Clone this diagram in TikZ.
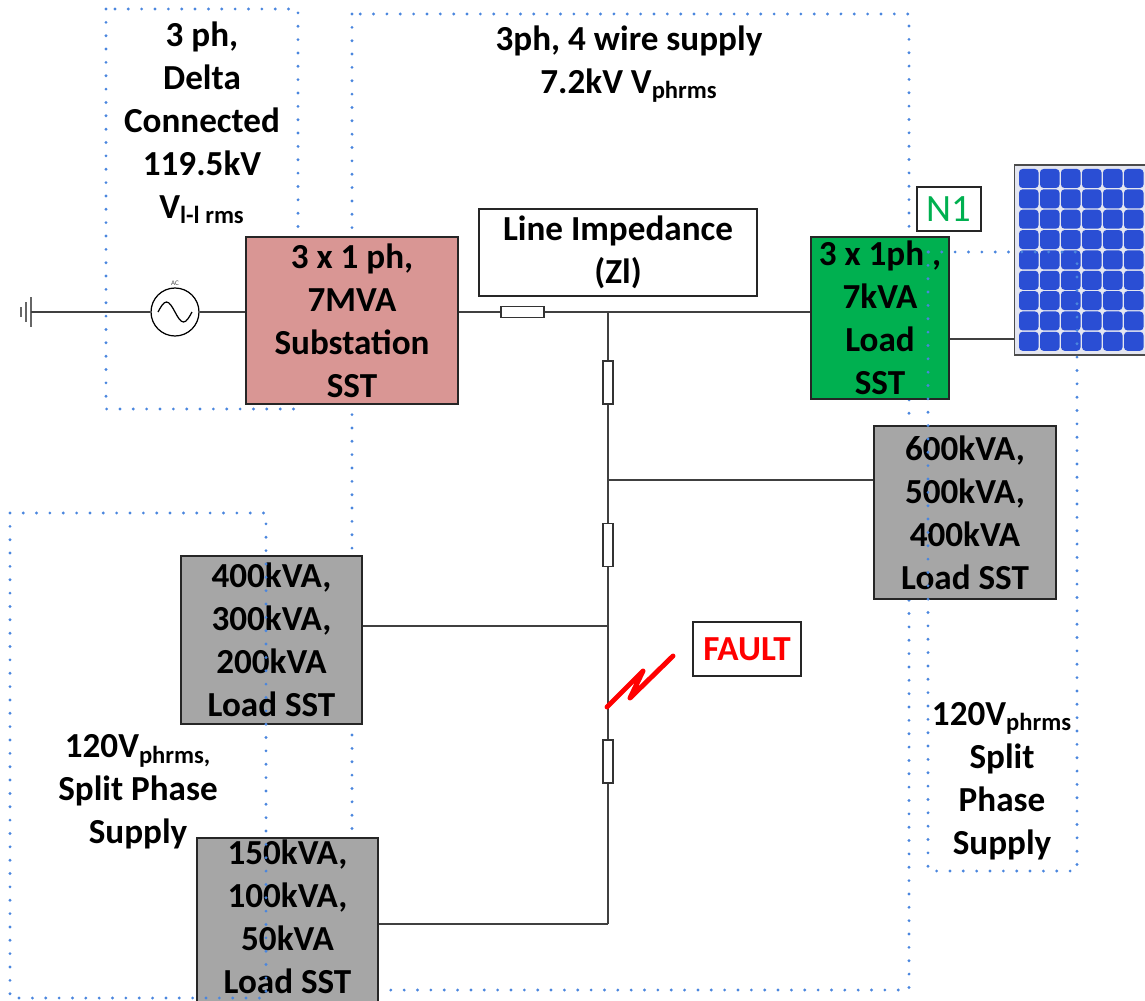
\documentclass[tikz,border=0pt]{standalone}
\usepackage{fontspec}
\setmainfont{Carlito}
\usepackage{xcolor}
\usepackage{tikz}
\usetikzlibrary{positioning}

\definecolor{zoneblue}{RGB}{74,134,222}
\definecolor{subpink}{RGB}{217,150,148}
\definecolor{sstgreen}{RGB}{0,176,80}
\definecolor{sstgray}{RGB}{166,166,166}
\definecolor{pvblue}{RGB}{42,78,212}
\definecolor{pvframe}{RGB}{228,230,240}

\tikzset{
	txt/.style={align=center,font=\fontsize{20}{24.4}\selectfont\bfseries},
	sst/.style={txt,draw=black!85,line width=0.8pt,inner sep=0pt},
	zone/.style={draw=zoneblue,line width=1.8pt,line cap=round,dash pattern=on 0pt off 7.6pt},
	res/.style={draw=black!80,fill=white,line width=0.6pt,inner sep=0pt},
	wire/.style={draw=black!75,line width=0.7pt},
}

\begin{document}
\begin{tikzpicture}[x=0.02cm,y=-0.02cm]
		\useasboundingbox (0,0) rectangle (1145,1000);
		% supply zones lying behind the blocks
		\draw[zone] (106,9) rectangle (298,409);
		\draw[zone] (352,14) rectangle (909,990);
		%
		\node[txt] (deltatxt) at (202,123) {3 ph,\\Delta\\Connected\\119.5kV\\V\textsubscript{l-l rms}};
		\node[txt] (wiretxt) at (629,64) {3ph, 4 wire supply\\7.2kV V\textsubscript{phrms}};
		\node[txt] (splitL) at (138,792) {120V\textsubscript{phrms,}\\Split Phase\\Supply};
		\node[txt] (splitR) at (1002,781) {120V\textsubscript{phrms}\\Split\\Phase\\Supply};
		%
		% source side
		\coordinate (gnd) at (31,312);
		\draw[black!60,line width=1.2pt] (gnd) ++(0,-15) -- ++(0,30)
		(gnd) ++(-5,-10) -- ++(0,20) (gnd) ++(-10,-5) -- ++(0,10);
		\node[draw,circle,line width=0.7pt,minimum size=0.96cm,inner sep=0pt] (ac) at (175,312) {};
		\draw[line width=0.7pt] (ac.center) ++(-17,0) sin ++(8.5,-10) cos ++(8.5,10) sin ++(8.5,10) cos ++(8.5,-10);
		\node[font=\fontsize{4}{4}\selectfont,text=black!70] (aclbl) at (175,283) {AC};
		%
		\node[sst,fill=subpink,minimum width=4.24cm,minimum height=3.34cm] (sub) at (352,320.5) {3 x 1 ph,\\7MVA\\Substation\\SST};
		\node[sst,fill=white,minimum width=5.56cm,minimum height=1.74cm] (zl) at (618,252.5) {Line Impedance\\(Zl)};
		\node[sst,fill=sstgreen,minimum width=2.76cm,minimum height=3.24cm] (green) at (880,318) {3 x 1ph ,\\7kVA\\Load\\SST};
		\node[draw=black!85,line width=0.8pt,text=sstgreen,font=\fontsize{22}{26}\selectfont,minimum width=1.28cm,minimum height=0.88cm,inner sep=0pt] (n1) at (949,209) {N1};
		\node[sst,fill=sstgray,minimum width=3.64cm,minimum height=3.46cm] (g600) at (965,512.5) {600kVA,\\500kVA,\\400kVA\\Load SST};
		\node[sst,fill=sstgray,minimum width=3.62cm,minimum height=3.36cm] (g400) at (271.5,640) {400kVA,\\300kVA,\\200kVA\\Load SST};
		\node[sst,fill=sstgray,minimum width=3.62cm,minimum height=3.44cm] (g150) at (287.5,924) {};
		\node[txt] (g150txt) at (287.5,917) {150kVA,\\100kVA,\\50kVA\\Load SST};
		\node[sst,text=red,fill=white,minimum width=2.16cm,minimum height=1.08cm] (fault) at (747,649) {FAULT};
		%
		% pv panel
		\node[draw=black!70,fill=pvframe,line width=0.6pt,minimum width=2.92cm,minimum height=3.8cm,inner sep=0pt] (pv) at (1087,260) {};
		\foreach \i in {0,...,6}
			\foreach \j in {0,...,8}
				\fill[pvblue,rounded corners=2pt] (1019+21*\i,169+20.35*\j) rectangle ++(19.5,19);
		%
		% feeder with line impedances
		\coordinate (j0) at (608,312);
		\coordinate (j1) at (608,480);
		\coordinate (j2) at (608,626);
		\coordinate (j3) at (608,924);
		\node[res,minimum width=0.86cm,minimum height=0.22cm] (zr) at (522.5,312) {};
		\node[res,minimum width=0.2cm,minimum height=0.86cm] (r1) at (608,382.5) {};
		\node[res,minimum width=0.2cm,minimum height=0.86cm] (r2) at (608,545) {};
		\node[res,minimum width=0.2cm,minimum height=0.86cm] (r3) at (608,761.5) {};
		\path[wire]
		(gnd) edge (ac)
		(ac) edge (ac -| sub.west)
		(zr -| sub.east) edge (zr)
		(zr) edge (j0)
		(j0) edge (j0 -| green.west)
		(green.east |- 0,339) edge (pv.west |- 0,339)
		(j0) edge (r1)
		(r1) edge (j1)
		(j1) edge (r2)
		(r2) edge (j2)
		(j2) edge (r3)
		(r3) edge (j3)
		(j1) edge (j1 -| g600.west)
		(j2) edge (j2 -| g400.east)
		(j3) edge (j3 -| g150.east);
		%
		\coordinate (fpt) at (607,707);
		\draw[red,line width=2.8pt,line cap=round,line join=round] (fpt) -- (643,671) -- (630,698) -- (673,656);
		%
		% split phase zones drawn over the blocks
		\draw[zone] (10,513) rectangle (266,998);
		\draw[zone] (928,252) rectangle (1077,871);
\end{tikzpicture}
\end{document}
